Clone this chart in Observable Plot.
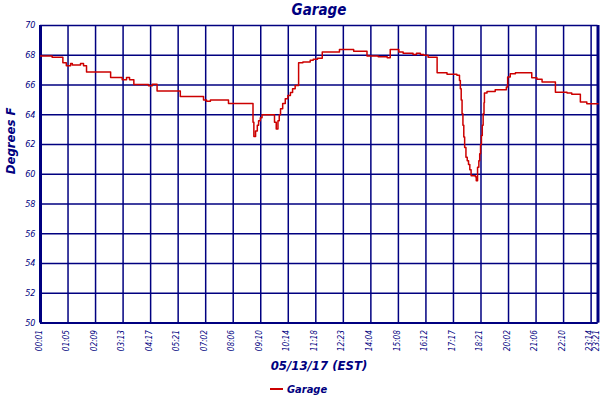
<!DOCTYPE html>
<html>
<head>
<meta charset="utf-8">
<script src="https://cdn.jsdelivr.net/npm/d3@7"></script>
<script src="https://cdn.jsdelivr.net/npm/@observablehq/plot@0.6"></script>
<style>
  html, body { margin: 0; padding: 0; background: #fff; }
  #wrap { position: relative; width: 600px; height: 400px; font-family: "DejaVu Sans Condensed", "DejaVu Sans", sans-serif; color: #000080; }
  .t { position: absolute; font-weight: bold; font-style: italic; white-space: nowrap; }
  #title { left: 0; width: 638px; top: 0; height: 20px; line-height: 20px; text-align: center; font-size: 15px; }
  #xtitle { left: 0; width: 638px; top: 357px; height: 18px; line-height: 18px; text-align: center; font-size: 13px; }
  #legend { left: 270px; top: 382px; height: 16px; line-height: 16px; font-size: 11px; }
  #legend span.sw { display: inline-block; width: 13px; height: 2px; background: #cc0000; vertical-align: middle; margin-right: 4px; position: relative; top: -1px; }
  #chart { position: absolute; left: 0; top: 20px; }
</style>
</head>
<body>
<div id="wrap">
  <div id="title" class="t">Garage</div>
  <div id="chart"></div>
  <div id="xtitle" class="t">05/13/17 (EST)</div>
  <div id="legend" class="t"><span class="sw"></span>Garage</div>
</div>
<script>
// x tick positions (sample index) and their labels
const tickIdx = [0, 64, 128, 192, 256, 320, 384, 448, 512, 576, 640, 704, 768, 832, 896, 960, 1024, 1088, 1152, 1216, 1280, 1296];
const tickLabels = ["00:01","01:05","02:09","03:13","04:17","05:21","07:02","08:06","09:10","10:14","11:18","12:23","14:04","15:08","16:12","17:17","18:21","20:02","21:06","22:10","23:14","23:21"];
const yTicks = [50, 52, 54, 56, 58, 60, 62, 64, 66, 68, 70];

// Garage temperature readings (sample index, degrees F)
const sampleIdx = [0,27,52,60,70,74,93,100,107,163,190,200,207,217,251,260,271,325,379,386,395,437,494,496,500,504,507,511,515,544,548,552,555,558,563,569,575,581,586,592,600,610,627,634,644,655,695,728,759,785,806,813,833,843,866,874,883,891,901,922,945,968,974,976,978,980,982,984,986,989,992,995,998,1001,1011,1013,1016,1019,1021,1023,1025,1027,1029,1031,1032,1038,1057,1083,1086,1092,1104,1142,1154,1166,1197,1224,1235,1255,1270,1296];
const garageF = [67.95,67.86,67.5,67.3,67.45,67.35,67.45,67.3,66.87,66.5,66.35,66.5,66.35,66.04,65.95,66.05,65.59,65.23,65.0,64.9,65.0,64.75,63.5,62.54,62.9,63.3,63.6,63.8,64.0,63.5,63.05,63.6,64.0,64.4,64.75,65.08,65.3,65.5,65.75,65.97,67.5,67.55,67.66,67.73,67.8,68.22,68.38,68.27,67.95,67.9,67.84,68.38,68.22,68.13,68.05,68.13,68.05,68.0,67.86,66.83,66.72,66.65,66.3,65.75,65.0,64.07,63.3,62.5,61.8,61.14,60.9,60.65,60.3,59.9,59.84,59.57,60.47,60.9,61.37,62.0,62.6,63.3,64.07,64.8,65.46,65.57,65.68,65.86,66.53,66.76,66.83,66.49,66.38,66.2,65.52,65.46,65.37,64.85,64.74,64.74];

const data = sampleIdx.map((x, i) => ({x, y: garageF[i]}));
const labelOf = new Map(tickIdx.map((d, i) => [d, tickLabels[i]]));
const navy = "#000080";

const chart = Plot.plot({
  width: 600,
  height: 338,
  marginTop: 5,
  marginBottom: 35.5,
  marginLeft: 40,
  marginRight: 2.5,
  style: {fontFamily: "'DejaVu Sans Condensed', 'DejaVu Sans', sans-serif", fontSize: "8.5px", fontStyle: "italic", color: navy, background: "#fff"},
  x: {domain: [0, 1296], axis: null},
  y: {domain: [50, 70], axis: null},
  marks: [
    Plot.ruleX(tickIdx, {stroke: navy, strokeWidth: 1.5}),
    Plot.ruleY(yTicks, {stroke: navy, strokeWidth: 1.5}),
    Plot.ruleX([0, 1296], {stroke: navy, strokeWidth: 3}),
    Plot.ruleY([50], {stroke: navy, strokeWidth: 2}),
    Plot.axisY({ticks: yTicks, tickSize: 0, tickPadding: 5, label: null, fill: navy, fontSize: 9}),
    Plot.axisX({ticks: tickIdx, tickFormat: d => labelOf.get(d), tickRotate: -90, tickSize: 0, tickPadding: 7, dx: -1.5, label: null, fill: navy, fontSize: 8.2}),
    Plot.line(data, {x: "x", y: "y", curve: "step-after", stroke: "#cc0000", strokeWidth: 1.5}),
    Plot.text(["Degrees F"], {frameAnchor: "left", dx: -30, rotate: -90, fontSize: 13, fontWeight: "bold", fontStyle: "italic", fill: navy})
  ]
});
document.getElementById("chart").appendChild(chart);
</script>
</body>
</html>
